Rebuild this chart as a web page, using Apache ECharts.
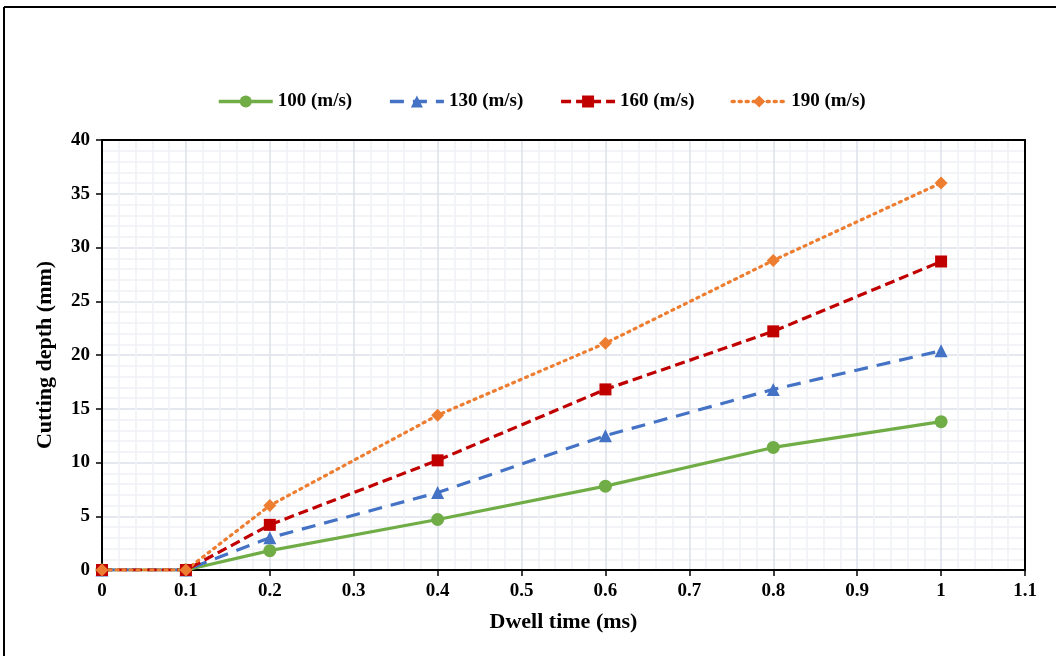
<!DOCTYPE html>
<html>
<head>
<meta charset="utf-8">
<script src="https://cdn.jsdelivr.net/npm/echarts@6/dist/echarts.min.js"></script>
<style>
  html, body { margin: 0; padding: 0; background: #fff; }
  #chart { width: 1056px; height: 656px; }
</style>
</head>
<body>
<div id="chart"></div>
<script>
var dwellTime = [0, 0.1, 0.2, 0.4, 0.6, 0.8, 1];
var seriesNames = ['100 (m/s)', '130 (m/s)', '160 (m/s)', '190 (m/s)'];
var depth100 = [0, 0, 1.8, 4.7, 7.8, 11.4, 13.8];
var depth130 = [0, 0, 3.0, 7.2, 12.5, 16.8, 20.4];
var depth160 = [0, 0, 4.2, 10.2, 16.8, 22.2, 28.7];
var depth190 = [0, 0, 6.0, 14.4, 21.1, 28.8, 36.0];

function pairs(ys) {
    return dwellTime.map(function (x, i) { return [x, ys[i]]; });
}

var font = 'Liberation Serif, Times New Roman, serif';
var chart = echarts.init(document.getElementById('chart'));

//series styles
var styles = [
    { data: depth100, color: '#70ad47', symbol: 'circle', size: 13, type: 'solid' },
    { data: depth130, color: '#4472c4', symbol: 'triangle', size: 13, type: [14, 9] },
    { data: depth160, color: '#c00000', symbol: 'rect', size: 12, type: [10, 5] },
    { data: depth190, color: '#ed7d31', symbol: 'diamond', size: 13, type: [2, 5] }
];

var series = styles.map(function (s, i) {
    return {
        name: seriesNames[i],
        type: 'line',
        data: pairs(s.data),
        symbol: s.symbol,
        symbolSize: s.size,
        color: s.color,
        itemStyle: { color: s.color },
        lineStyle: { color: s.color, width: 3.2, type: s.type, cap: i === 3 ? 'round' : 'butt' },
        emphasis: { disabled: true }
    };
});

var labelStyle = { fontFamily: font, fontWeight: 'bold', fontSize: 19, color: '#000' };
var nameStyle = { fontFamily: font, fontWeight: 'bold', fontSize: 22, color: '#000' };

var option = {
    backgroundColor: '#fff',
    animation: false,
    graphic: [
        { type: 'line', shape: { x1: 4, y1: 7, x2: 1060, y2: 7 }, style: { stroke: '#000', lineWidth: 2 } },
        { type: 'line', shape: { x1: 4, y1: 7, x2: 4, y2: 660 }, style: { stroke: '#000', lineWidth: 2 } }
    ],
    legend: {
        top: 87,
        left: 212,
        itemWidth: 54,
        itemHeight: 15,
        itemGap: 36,
        lineStyle: { width: 3.5 },
        textStyle: { fontFamily: font, fontWeight: 'bold', fontSize: 19, color: '#000' },
        data: seriesNames
    },
    grid: {
        left: 102,
        right: 31,
        top: 140,
        bottom: 86
    },
    xAxis: [{
        type: 'value',
        min: 0,
        max: 1.1,
        interval: 0.1,
        name: 'Dwell time (ms)',
        nameLocation: 'middle',
        nameGap: 41,
        nameTextStyle: nameStyle,
        axisLine: { onZero: false, lineStyle: { color: '#000', width: 2 } },
        axisTick: { show: true, length: 6, lineStyle: { color: '#000', width: 1.5 } },
        axisLabel: Object.assign({
            margin: 12,
            formatter: function (v) { return String(Math.round(v * 10) / 10); }
        }, labelStyle),
        splitLine: { show: true, lineStyle: { color: '#dde1ea', width: 1.5 } },
        minorTick: { show: false, splitNumber: 5 },
        minorSplitLine: { show: true, lineStyle: { color: '#eff1f5', width: 1.5 } }
    }, {
        type: 'value',
        position: 'top',
        min: 0,
        max: 1.1,
        interval: 0.1,
        axisLine: { show: true, onZero: false, lineStyle: { color: '#000', width: 2 } },
        axisTick: { show: false },
        axisLabel: { show: false },
        splitLine: { show: false }
    }],
    yAxis: [{
        type: 'value',
        min: 0,
        max: 40,
        interval: 5,
        name: 'Cutting depth (mm)',
        nameLocation: 'middle',
        nameGap: 46,
        nameTextStyle: nameStyle,
        axisLine: { show: true, onZero: false, lineStyle: { color: '#000', width: 2 } },
        axisTick: { show: true, length: 6, lineStyle: { color: '#000', width: 1.5 } },
        axisLabel: Object.assign({ margin: 12 }, labelStyle),
        splitLine: { show: true, lineStyle: { color: '#dde1ea', width: 1.5 } },
        minorTick: { show: false, splitNumber: 5 },
        minorSplitLine: { show: true, lineStyle: { color: '#eff1f5', width: 1.5 } }
    }, {
        type: 'value',
        position: 'right',
        min: 0,
        max: 40,
        interval: 5,
        axisLine: { show: true, onZero: false, lineStyle: { color: '#000', width: 2 } },
        axisTick: { show: false },
        axisLabel: { show: false },
        splitLine: { show: false }
    }],
    series: series
};
chart.setOption(option);
</script>
</body>
</html>
